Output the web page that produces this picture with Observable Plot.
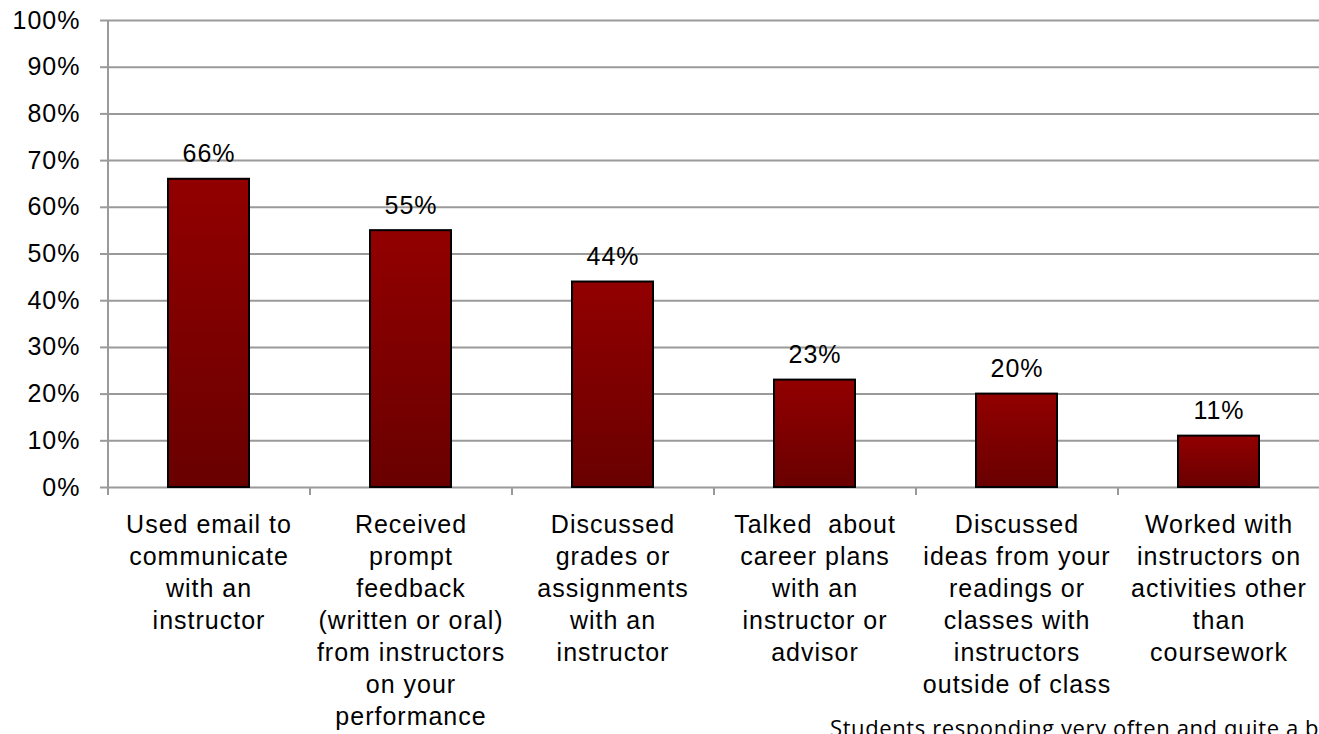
<!DOCTYPE html>
<html>
<head>
<meta charset="utf-8">
<script src="https://cdn.jsdelivr.net/npm/d3@7"></script>
<script src="https://cdn.jsdelivr.net/npm/@observablehq/plot@0.6"></script>
<style>
  html, body { margin: 0; padding: 0; background: #fff; overflow: hidden; }
  #wrap { position: relative; width: 1319px; height: 734px; overflow: hidden; }
  #caption { position: absolute; left: 830px; top: 716px; white-space: nowrap; line-height: 1;
    font-family: "Open Sans", "Noto Sans", sans-serif; font-size: 22px; letter-spacing: 0.6px; color: #000; }
</style>
</head>
<body>
<div id="wrap"><div id="caption"></div></div>
<script>
const categories = [
  "Used email to communicate with an instructor",
  "Received prompt feedback (written or oral) from instructors on your performance",
  "Discussed grades or assignments with an instructor",
  "Talked about career plans with an instructor or advisor",
  "Discussed ideas from your readings or classes with instructors outside of class",
  "Worked with instructors on activities other than coursework"
];
const tickLabels = [
  "Used email to\ncommunicate\nwith an\ninstructor",
  "Received\nprompt\nfeedback\n(written or oral)\nfrom instructors\non your\nperformance",
  "Discussed\ngrades or\nassignments\nwith an\ninstructor",
  "Talked\u00a0 about\ncareer plans\nwith an\ninstructor or\nadvisor",
  "Discussed\nideas from your\nreadings or\nclasses with\ninstructors\noutside of class",
  "Worked with\ninstructors on\nactivities other\nthan\ncoursework"
];
const values = [0.66, 0.55, 0.44, 0.23, 0.20, 0.11];
const yTicks = [0, 0.1, 0.2, 0.3, 0.4, 0.5, 0.6, 0.7, 0.8, 0.9, 1.0];
const captionText = "Students responding very often and quite a bit";

const data = categories.map((c, i) => ({category: c, label: tickLabels[i], value: values[i]}));

const W = 1319, H = 734, mL = 107, mR = 0, mT = 20, mB = 247;
const step = (W - mL - mR) / categories.length;
const tickExt = 8 / (H - mT - mB); // 8px below zero in data units
const grid = "#9a9a9a";
const font = "'Liberation Sans', Arial, sans-serif";

const plot = Plot.plot({
  width: W,
  height: H,
  marginLeft: mL,
  marginRight: mR,
  marginTop: mT,
  marginBottom: mB,
  style: {fontFamily: font, fontSize: "25px", letterSpacing: "1px", color: "#000", background: "#fff"},
  x: {domain: categories, paddingInner: 0.6, paddingOuter: 0.3, axis: null},
  y: {domain: [0, 1], axis: null},
  marks: [
    () => {
      const svg = d3.create("svg:defs");
      const g = svg.append("linearGradient").attr("id", "barGrad")
        .attr("x1", 0).attr("y1", 0).attr("x2", 0).attr("y2", 1);
      g.append("stop").attr("offset", "0%").attr("stop-color", "#920000");
      g.append("stop").attr("offset", "100%").attr("stop-color", "#690000");
      return svg.node();
    },
    Plot.gridY(yTicks, {stroke: grid, strokeOpacity: 1, strokeWidth: 2}),
    Plot.axisY(yTicks, {tickSize: 7, tickPadding: 20, stroke: grid, strokeWidth: 2, fill: "#000",
      tickFormat: d3.format(".0%"), fontSize: 25, label: null}),
    // left axis line
    Plot.ruleX([categories[0]], {x: d => d, y1: -tickExt, y2: 1, dx: -step / 2, stroke: grid, strokeWidth: 2}),
    // category boundary ticks
    Plot.ruleX(categories.slice(1), {x: d => d, y1: -tickExt, y2: 0, dx: -step / 2, stroke: grid, strokeWidth: 2}),
    Plot.barY(data, {x: "category", y: "value", fill: "url(#barGrad)", stroke: "#000", strokeWidth: 2}),
    Plot.text(data, {x: "category", y: "value", text: d => d3.format(".0%")(d.value),
      lineAnchor: "bottom", dy: -17, fontSize: 25, fill: "#000"}),
    Plot.text(data, {x: "category", y: 0, text: "label", lineAnchor: "top", dy: 23,
      lineHeight: 1.28, fontSize: 25, fill: "#000"})
  ]
});
document.getElementById("wrap").prepend(plot);
document.getElementById("caption").textContent = captionText;
</script>
</body>
</html>
